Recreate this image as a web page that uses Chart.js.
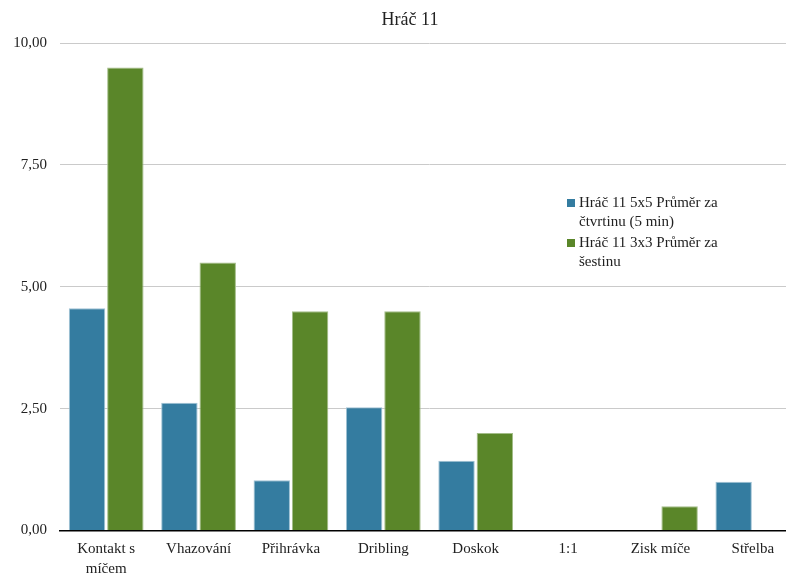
<!DOCTYPE html>
<html>
<head>
<meta charset="utf-8">
<script src="https://cdn.jsdelivr.net/npm/chart.js@4.4.1/dist/chart.umd.min.js"></script>
<style>
  html, body { margin: 0; padding: 0; background: #fff; }
  body { width: 786px; height: 575px; overflow: hidden; }
  #wrap { width: 820px; height: 575px; position: relative; }
</style>
</head>
<body>
<div id="wrap"><canvas id="chart"></canvas></div>
<script>
const chartTitle = 'Hráč 11';
const categories = [['Kontakt s', 'míčem'], 'Vhazování', 'Přihrávka', 'Dribling', 'Doskok', '1:1', 'Zisk míče', 'Střelba'];
const seriesLabels = [
  ['Hráč 11 5x5 Průměr za', 'čtvrtinu (5 min)'],
  ['Hráč 11 3x3 Průměr za', 'šestinu'],
];
const avg5x5 = [4.56, 2.62, 1.03, 2.53, 1.43, 0, 0, 1.0];
const avg3x3 = [9.5, 5.5, 4.5, 4.5, 2.0, 0, 0.5, 0];
const yTicks = [0, 2.5, 5, 7.5, 10];

const FONT = '"Liberation Serif", "Times New Roman", serif';
const TEXT = '#222';
const colors = ['#347ca0', '#5a8629'];
const borders = ['#9fc2d4', '#a3bd88'];

// Title over the page and legend box inside the plot area
const decorations = {
  id: 'decorations',
  afterDraw(chart) {
    const ctx = chart.ctx;
    ctx.save();
    ctx.textBaseline = 'middle';
    ctx.fillStyle = TEXT;

    ctx.font = '18px ' + FONT;
    ctx.textAlign = 'center';
    ctx.fillText(chartTitle, 410, 20);

    ctx.font = '15px ' + FONT;
    ctx.textAlign = 'left';
    let y = 203;
    chart.data.datasets.forEach((ds, i) => {
      ctx.fillStyle = ds.backgroundColor;
      ctx.fillRect(567, y - 4, 8, 8);
      ctx.fillStyle = TEXT;
      seriesLabels[i].forEach((line, j) => {
        ctx.fillText(line, 579, y + j * 19);
      });
      y += 40;
    });
    ctx.restore();
  }
};

new Chart(document.getElementById('chart'), {
  type: 'bar',
  data: {
    labels: categories,
    datasets: [
      {
        label: seriesLabels[0].join(' '),
        data: avg5x5,
        backgroundColor: colors[0],
        borderColor: borders[0],
        borderWidth: 1,
      },
      {
        label: seriesLabels[1].join(' '),
        data: avg3x3,
        backgroundColor: colors[1],
        borderColor: borders[1],
        borderWidth: 1,
      },
    ],
  },
  options: {
    responsive: true,
    maintainAspectRatio: false,
    animation: false,
    categoryPercentage: 0.83,
    barPercentage: 0.95,
    layout: { padding: { left: 0, right: 21, top: 43, bottom: 0 } },
    plugins: {
      legend: { display: false },
      tooltip: { enabled: false },
      title: { display: false },
    },
    scales: {
      x: {
        grid: { display: false, drawTicks: false },
        border: { display: true, color: '#000', width: 1.5 },
        ticks: {
          color: TEXT,
          font: { family: FONT, size: 15, lineHeight: 1.33 },
          padding: 9,
          maxRotation: 0,
          autoSkip: false,
        },
        afterFit: (a) => { a.height = 44.5; },
      },
      y: {
        min: 0,
        max: 10,
        afterBuildTicks: (a) => { a.ticks = yTicks.map(v => ({ value: v })); },
        grid: { color: '#cacaca', lineWidth: 1, drawTicks: false },
        border: { display: false },
        ticks: {
          color: TEXT,
          font: { family: FONT, size: 15 },
          padding: 13,
          callback: (v) => Number(v).toFixed(2).replace('.', ','),
        },
        afterFit: (a) => { a.width = 60; },
      },
    },
  },
  plugins: [decorations],
});
</script>
</body>
</html>
